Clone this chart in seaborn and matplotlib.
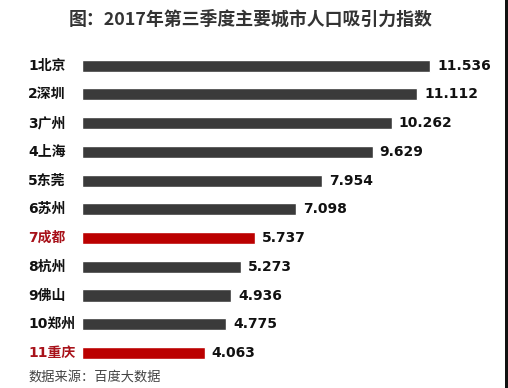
import matplotlib
matplotlib.use("Agg")
import matplotlib.pyplot as plt
import matplotlib.transforms as mtransforms
from matplotlib.patches import Rectangle
import seaborn as sns
import pandas as pd

cities = ["1北京", "2深圳", "3广州", "4上海", "5东莞", "6苏州", "7成都", "8杭州", "9佛山", "10郑州", "11重庆"]
values = [11.536, 11.112, 10.262, 9.629, 7.954, 7.098, 5.737, 5.273, 4.936, 4.775, 4.063]
highlight = ["7成都", "11重庆"]
title = "图：2017年第三季度主要城市人口吸引力指数"
source = "数据来源：百度大数据"

sns.set_theme(style="white")
FAM = ["DejaVu Sans", "Noto Sans CJK SC"]
CJK = ["Noto Sans CJK SC", "DejaVu Sans"]
plt.rcParams["font.family"] = FAM

DARK = "#3a3a3a"
RED = "#bb0000"
LABEL_RED = "#a8121a"

df = pd.DataFrame({"city": cities, "value": values})
palette = {c: (RED if c in highlight else DARK) for c in cities}

fig = plt.figure(figsize=(5.08, 3.88), dpi=100)
fig.patch.set_facecolor("white")
ax = fig.add_axes([82 / 508, 0.0531, 423 / 508, 0.815])

sns.barplot(data=df, x="value", y="city", hue="city", palette=palette,
            order=cities, orient="h", width=0.42, legend=False, ax=ax,
            saturation=1)

ax.set_xlim(0, 423 / 30.17)
ax.set_ylim(len(cities) - 0.5, -0.5)
ax.set_xlabel("")
ax.set_ylabel("")
ax.set_xticks([])
ax.set_yticks([])
for s in ax.spines.values():
    s.set_visible(False)

label_tr = mtransforms.blended_transform_factory(fig.transFigure, ax.transData)
for i, (c, v) in enumerate(zip(cities, values)):
    ax.text(v + 0.24, i, f"{v:.3f}", va="center", ha="left",
            fontsize=10, fontweight="bold", color="#111111", family=FAM)
    ax.text(28 / 508, i, c, transform=label_tr,
            va="center", ha="left", fontsize=10, fontweight="bold",
            color=(LABEL_RED if c in highlight else "#111111"), family=FAM)

fig.text(251 / 508, 1 - 20 / 388, title, ha="center", va="center",
         fontsize=12.9, fontweight="bold", color="#333333", family=CJK)
fig.text(28 / 508, 1 - 377 / 388, source, ha="left", va="center",
         fontsize=9.5, color="#444444", family=CJK)

fig.patches.append(Rectangle((505 / 508, 0), 3 / 508, 1, transform=fig.transFigure,
                             facecolor="#111111", edgecolor="none", figure=fig))

fig.savefig("out.png", dpi=100, facecolor="white")
